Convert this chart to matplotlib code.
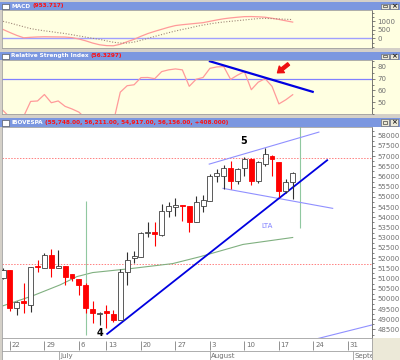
import matplotlib
matplotlib.use('Agg')
import matplotlib.pyplot as plt
from matplotlib.patches import Rectangle
from matplotlib.text import Annotation
from matplotlib.ticker import MultipleLocator, FixedLocator
import numpy as np

W, H = 400, 360

# one candle per trading day, 19 Jun .. 19 Aug 2009 (index 0..42)
opens  = [51000, 51430, 49560, 49900, 49700, 51620, 51530, 52170, 51530, 51630,
          51200, 50990, 50700, 49510, 49260, 49400, 49270, 48970, 51330, 51980,
          52070, 53210, 53260, 53110, 54290, 54490, 54590, 54540, 53750, 54540,
          54780, 56010, 56010, 56410, 55770, 56410, 56850, 55770, 56610, 57000,
          56700, 55280, 55748]
highs  = [51500, 51430, 49900, 50800, 51580, 51930, 52270, 52470, 52420, 51630,
          51240, 50990, 50780, 49900, 49360, 49700, 49460, 51480, 52320, 52370,
          53260, 53750, 53750, 54640, 54730, 54930, 54600, 54540, 55030, 55080,
          56110, 56360, 56560, 56750, 56400, 56950, 56900, 56750, 57390, 57050,
          56700, 55900, 56211]
lows   = [50950, 49410, 49200, 49300, 49360, 51330, 51530, 51090, 51500, 50700,
          50900, 50200, 49300, 48820, 48720, 48580, 48870, 48970, 50700, 51780,
          52070, 53010, 52570, 53060, 54000, 54040, 53800, 53300, 53750, 54240,
          54780, 55720, 55370, 55370, 55620, 56010, 55570, 55700, 56500, 56010,
          54980, 55200, 54917]
closes = [51430, 49560, 49860, 49820, 51580, 51550, 52170, 51530, 51630, 51090,
          51000, 50700, 49560, 49310, 49270, 49310, 48970, 51330, 51930, 52120,
          53210, 53300, 53160, 54290, 54540, 54590, 54540, 53750, 54730, 54830,
          56010, 56160, 56410, 55770, 56360, 56850, 55770, 56700, 57100, 56850,
          55280, 55748, 56156]

macd   = [520, 340, 170, 30, 60, 80, 90, 85, 80, 75,
          40, -40, -150, -280, -380, -430, -440, -350, -200, -60,
          120, 280, 410, 530, 650, 750, 800, 840, 880, 920,
          1000, 1080, 1150, 1200, 1240, 1275, 1280, 1265, 1240, 1180,
          1110, 1030, 953.717]
signal = [1000, 900, 790, 680, 570, 500, 440, 390, 330, 280,
          210, 140, 70, 0, -60, -150, -230, -280, -280, -220,
          -120, 0, 110, 220, 330, 430, 520, 600, 700, 780,
          850, 910, 960, 1000, 1040, 1080, 1120, 1160, 1170, 1160,
          1140, 1120, 1100]
rsi    = [42.9, 37, 35, 38, 50.6, 51, 56.5, 49.5, 51, 46.4,
          44.2, 41.5, 36, 33, 33, 34, 33, 58.5, 64, 64.8,
          70.9, 71, 70, 76, 77.5, 78.3, 77.5, 63.5, 69.5, 71,
          78.8, 80, 80.3, 69.4, 73, 76, 60.6, 67, 70, 63.5,
          48.5, 52, 56.3297]

# moving average read at a few days
ma_idx = [0, 4.3, 8.3, 10.7, 13, 18.4, 24.6, 28.6, 34.8, 42]
ma_val = [49660, 50150, 50690, 51090, 51290, 51480, 51730, 52070, 52670, 53010]

# drawn lines (day index, value)
lta_x, lta_y = [15.1, 47.0], [48280, 56800]
chan_up_x, chan_up_y = [29.9, 45.8], [56610, 58180]
chan_lo_x, chan_lo_y = [31.9, 47.8], [55420, 54440]
low_x, low_y = [44.9, 53.5], [47990, 48720]
rsi_tl_x, rsi_tl_y = [30, 44.9], [84.8, 58.8]
red_lines = [56900, 51730]

day_ticks = [1, 6, 11, 15, 20, 25, 30, 35, 40, 45, 50]
day_labels = ['22', '29', '6', '13', '20', '27', '3', '10', '17', '24', '31']
month_pos = [8.1, 30, 50.7]
month_labels = ['July', 'August', 'September']

XL = (-0.15, 53.5)
BAR = '#7b97e0'
CREAM = '#ffffe1'
LBL = '#707070'


def box(l, t, r, b):
    return [l / W, 1 - b / H, (r - l) / W, (b - t) / H]


def frect(l, t, r, b, z=1, **kw):
    fig.add_artist(Rectangle((l / W, 1 - b / H), (r - l) / W, (b - t) / H,
                             transform=fig.transFigure, zorder=z, **kw))


def title_bar(t, b, name, value):
    frect(0, t, 400, b, facecolor=BAR, edgecolor='none')
    frect(2, t + 2, 9, b - 1.5, facecolor='white', edgecolor='#404040', lw=0.4)
    yc = 1 - (t + b) / 2 / H
    t1 = fig.text(11 / W, yc, name, color='white', fontsize=4.6, va='center',
                  fontweight='bold', fontstretch='condensed', zorder=2)
    fig.add_artist(Annotation(value, xy=(1, 0.5), xycoords=t1, xytext=(1.5, 0),
                              textcoords='offset points', va='center', ha='left',
                              color='#ff1010', fontsize=4.6, fontweight='bold',
                              fontstretch='condensed', annotation_clip=False, zorder=2))
    for bx in (381, 390):
        frect(bx, t + 1.5, bx + 8, b - 1, facecolor='#ece9d8', edgecolor='#606060', lw=0.4)
    frect(383, t + 3, 387, b - 3, facecolor='none', edgecolor='#202020', lw=0.4)
    fig.text(394 / W, yc, '×', fontsize=5, ha='center', va='center', color='#202020',
             fontweight='bold', zorder=2)


def style(ax, face):
    ax.set_facecolor(face)
    ax.set_xlim(*XL)
    ax.set_xticks([])
    ax.yaxis.tick_right()
    ax.tick_params(axis='y', which='both', labelsize=5, labelcolor=LBL, color='#505050',
                   length=2.5, width=0.5, pad=1.5)
    ax.tick_params(axis='y', which='minor', length=1.5)
    for s in ax.spines.values():
        s.set_color('#a0a0a0')
        s.set_linewidth(0.6)
    ax.spines['right'].set_color('#606060')


fig = plt.figure(figsize=(4, 3.6), dpi=100, facecolor='#d4d0c8')

# panel backgrounds (incl. the label strip on the right)
frect(2, 10, 400, 48, z=-10, facecolor=CREAM, edgecolor='none')
frect(2, 60, 400, 114, z=-10, facecolor=CREAM, edgecolor='none')
frect(2, 127, 400, 338, z=-10, facecolor='white', edgecolor='none')
frect(372, 338, 400, 360, z=-10, facecolor='#ece9d8', edgecolor='none')

ax_m = fig.add_axes(box(2, 10, 372, 48))
ax_r = fig.add_axes(box(2, 60, 372, 114))
ax_p = fig.add_axes(box(2, 127, 372, 338))
ax_d = fig.add_axes(box(2, 338, 372, 360))

title_bar(2, 10, 'MACD', '(953.717)')
title_bar(52, 60, 'Relative Strength Index', '(56.3297)')
title_bar(118, 127, 'IBOVESPA', '(55,748.00, 56,211.00, 54,917.00, 56,156.00, +408.000)')

idx = np.arange(len(closes))

# ---- MACD
style(ax_m, CREAM)
ax_m.set_ylim(-570, 1665)
ax_m.yaxis.set_major_locator(FixedLocator([0, 500, 1000]))
ax_m.yaxis.set_minor_locator(MultipleLocator(250))
ax_m.axhline(0, color='#a0a0ff', lw=1)
ax_m.plot(idx, macd, color='#ff9a9a', lw=0.9)
ax_m.plot(idx, signal, color='#a08878', lw=0.8, ls=(0, (1, 1.5)))

# ---- RSI
style(ax_r, CREAM)
ax_r.set_ylim(39.9, 85.9)
ax_r.yaxis.set_major_locator(FixedLocator([50, 60, 70, 80]))
ax_r.yaxis.set_minor_locator(MultipleLocator(5))
ax_r.axhline(70, color='#8080ff', lw=0.9)
ax_r.plot(idx, rsi, color='#ff9a9a', lw=0.9)
ax_r.plot(rsi_tl_x, rsi_tl_y, color='#0000e0', lw=1.6)
ax_r.annotate('', xy=(39.8, 75), xytext=(41.4, 82.5),
              arrowprops=dict(facecolor='#ee1010', edgecolor='#ee1010', width=2.2,
                              headwidth=6, headlength=4))

# ---- price
style(ax_p, 'white')
ax_p.set_ylim(48080, 58430)
ax_p.yaxis.set_major_locator(MultipleLocator(500))
ax_p.yaxis.set_minor_locator(MultipleLocator(250))
ax_p.yaxis.set_major_formatter(lambda v, p: '%d' % v)
for lv in red_lines:
    ax_p.axhline(lv, color='#ff8080', lw=0.7, ls=(0, (1.5, 1.5)))
ax_p.plot(ma_idx, ma_val, color='#80b080', lw=0.8)
ax_p.vlines(12, 48230, 54780, color='#90c8a0', lw=0.8)
ax_p.vlines(43, 53500, 58480, color='#90c8a0', lw=0.8)
ax_p.plot(chan_up_x, chan_up_y, color='#9090ff', lw=0.8)
ax_p.plot(chan_lo_x, chan_lo_y, color='#9090ff', lw=0.8)
ax_p.plot(low_x, low_y, color='#9090ff', lw=0.8)
ax_p.plot(lta_x, lta_y, color='#0000e0', lw=1.3)

o, h, l, c = map(np.array, (opens, highs, lows, closes))
up = c >= o
wick_col = np.where(up, '#303030', '#ff0000')
ax_p.vlines(idx, l, h, colors=wick_col, lw=0.8, zorder=3)
body = np.maximum(np.abs(c - o), 30)
ax_p.bar(idx[up], body[up], bottom=np.minimum(o, c)[up], width=0.72,
         facecolor='white', edgecolor='#404040', lw=0.6, zorder=4)
ax_p.bar(idx[~up], body[~up], bottom=np.minimum(o, c)[~up], width=0.72,
         facecolor='#ff0000', edgecolor='#ff0000', lw=0.6, zorder=4)

ax_p.text(34.9, 57740, '5', fontsize=7, fontweight='bold', ha='center', va='center')
ax_p.text(14, 48330, '4', fontsize=7, fontweight='bold', ha='center', va='center')
ax_p.text(38.3, 53550, 'LTA', fontsize=5, color='#8080ff', ha='center', va='center')

# ---- date strip
ax_d.set_xlim(*XL)
ax_d.set_ylim(0, 1)
ax_d.set_xticks([])
ax_d.set_yticks([])
ax_d.set_facecolor('white')
for s in ax_d.spines.values():
    s.set_color('#a0a0a0')
    s.set_linewidth(0.6)
ax_d.axhline(0.42, color='#a0a0a0', lw=0.6)
for d, lab in zip(day_ticks, day_labels):
    ax_d.vlines(d, 0.46, 0.88, color='#808080', lw=0.6)
    ax_d.text(d + 0.25, 0.66, lab, fontsize=5, color=LBL, va='center', ha='left')
for m, lab in zip(month_pos, month_labels):
    ax_d.vlines(m, 0, 0.42, color='#a0a0a0', lw=0.6)
    ax_d.text(m + 0.2, 0.2, lab, fontsize=5, color=LBL, va='center', ha='left',
              clip_on=True)

fig.savefig('out.png', dpi=100, facecolor=fig.get_facecolor())
